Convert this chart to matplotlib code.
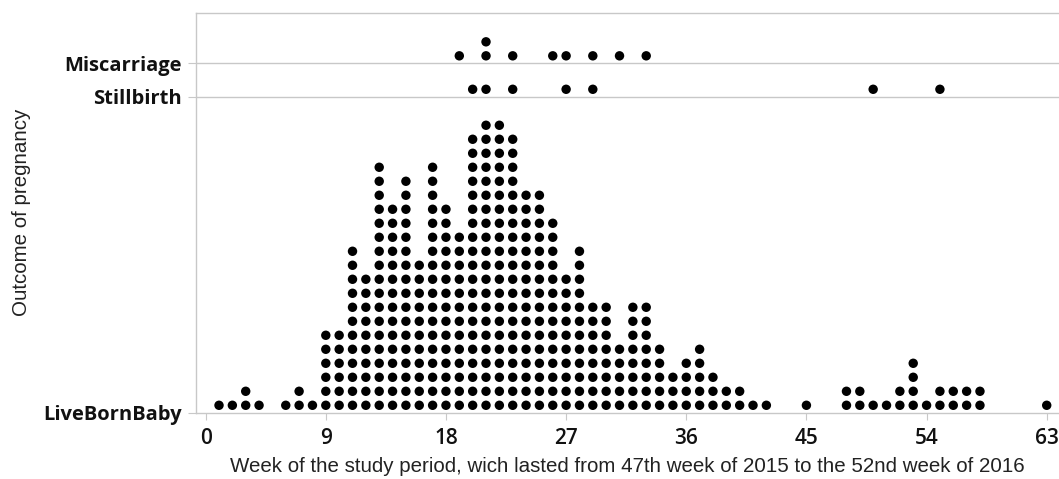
import numpy as np
import matplotlib.pyplot as plt

plt.rcParams['font.family'] = ['Open Sans', 'DejaVu Sans']

# outcome categories (bottom to top)
outcomes = ["LiveBornBaby", "Stillbirth", "Miscarriage"]

# live births: week -> number of dots in the stack
live_weeks = [1, 2, 3, 4, 6, 7, 8, 9, 10, 11, 12, 13, 14, 15, 16, 17, 18, 19, 20,
              21, 22, 23, 24, 25, 26, 27, 28, 29, 30, 31, 32, 33, 34, 35, 36, 37,
              38, 39, 40, 41, 42, 45, 48, 49, 50, 51, 52, 53, 54, 55, 56, 57, 58, 63]
live_counts = [1, 1, 2, 1, 1, 2, 1, 6, 6, 12, 10, 18, 15, 17, 11, 18, 15, 13, 20,
               21, 21, 20, 16, 16, 14, 10, 12, 8, 8, 5, 8, 8, 5, 3, 4, 5,
               3, 2, 2, 1, 1, 1, 2, 2, 1, 1, 2, 4, 1, 2, 2, 2, 2, 1]

stillbirth_weeks = [20, 21, 23, 27, 29, 50, 55]
miscarriage_weeks = [19, 21, 21, 23, 26, 27, 29, 31, 33]

x_ticks = [0, 9, 18, 27, 36, 45, 54, 63]

GRID = '#c8c8c8'


def stack(weeks):
    # give each repeated week the next level up
    levels = []
    seen = {}
    for w in weeks:
        k = seen.get(w, 0)
        levels.append(k)
        seen[w] = k + 1
    return np.array(weeks), np.array(levels)


fig = plt.figure(figsize=(10.59, 4.79), dpi=100)
ax = fig.add_axes([0.185, 0.1384, 0.815, 0.8345])

# baseline of each outcome row, in units of one dot height
bases = [0.0, 22.57, 24.96]
groups = [np.repeat(live_weeks, live_counts), stillbirth_weeks, miscarriage_weeks]

for base, weeks in zip(bases, groups):
    xs, lv = stack(list(weeks))
    ax.scatter(xs, base + 0.53 + lv, s=46, color='black', edgecolors='none', zorder=3)

for base in bases[1:]:
    ax.axhline(base, color=GRID, lw=1, zorder=1)

ax.set_xlim(-0.73, 63.92)
ax.set_ylim(0, 28.55)

for side in ['left', 'top', 'bottom']:
    ax.spines[side].set_color(GRID)
    ax.spines[side].set_linewidth(1)
ax.spines['right'].set_visible(False)

ax.set_xticks(x_ticks)
ax.set_xticklabels([str(t) for t in x_ticks], fontsize=15, fontweight='semibold', color='#111111')
ax.set_yticks(bases)
ax.set_yticklabels(outcomes, fontsize=14.5, fontweight='bold', color='#111111')
ax.tick_params(axis='x', length=5, color=GRID, pad=6)
ax.tick_params(axis='y', length=6, color=GRID, pad=4)

# axis titles look like Arial in the original
ax.set_xlabel("Week of the study period, wich lasted from 47th week of 2015 to the 52nd week of 2016",
              fontsize=14.8, color='#222222', labelpad=6, family=['Liberation Sans', 'DejaVu Sans'])
ax.set_ylabel("Outcome of pregnancy", fontsize=14.8, color='#222222', labelpad=9,
              family=['Liberation Sans', 'DejaVu Sans'])

fig.savefig("out.png", dpi=100)
